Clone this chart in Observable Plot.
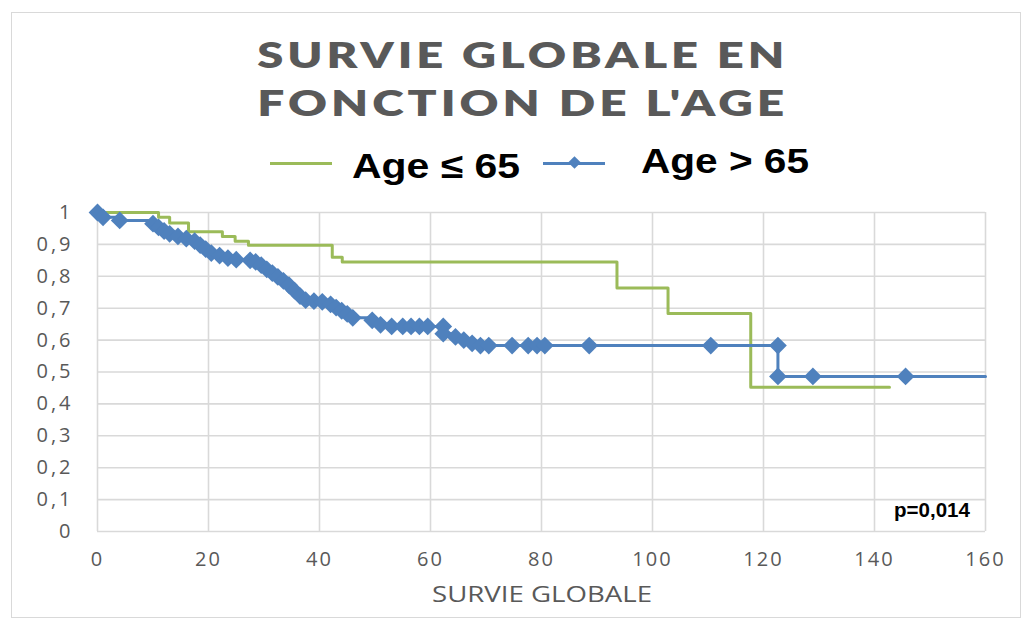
<!DOCTYPE html>
<html>
<head>
<meta charset="utf-8">
<script src="https://cdn.jsdelivr.net/npm/d3@7"></script>
<script src="https://cdn.jsdelivr.net/npm/@observablehq/plot@0.6"></script>
<style>
  html, body { margin: 0; padding: 0; background: #fff; }
  #wrap { position: relative; width: 1034px; height: 630px; overflow: hidden; background: #fff; }
  #border { position: absolute; left: 11px; top: 12px; width: 1010px; height: 606px; border: 1px solid #d9d9d9; box-sizing: border-box; }
  .abs { position: absolute; white-space: nowrap; }
  .title { left: 0; width: 1046px; text-align: center; font-family: Lato, "Open Sans", sans-serif; font-weight: 800; font-size: 36px; line-height: 36px; letter-spacing: 3px; color: #595959; }
  .title span { display: inline-block; transform-origin: center; }
  .leg { font-family: "Liberation Sans", Arial, sans-serif; font-weight: 700; font-size: 35px; line-height: 35px; color: #000; transform-origin: left center; }
  #chart { position: absolute; left: 0; top: 190px; }
  #chart [aria-label="y-axis tick label"] text { letter-spacing: 3px; }
  #chart [aria-label="x-axis tick label"] text { letter-spacing: 2px; }
  #xlabel { font-family: "Open Sans", sans-serif; font-size: 22px; line-height: 22px; color: #595959; transform-origin: left center; }
  #pval { font-family: "Liberation Sans Narrow", "Liberation Sans", sans-serif; font-weight: 700; font-size: 20px; line-height: 20px; color: #000; transform-origin: right center; }
</style>
</head>
<body>
<div id="wrap">
  <div id="border"></div>
  <div id="chart"></div>
  <div class="abs title" style="top:36px"><span id="t1">SURVIE GLOBALE EN</span></div>
  <div class="abs title" style="top:84px"><span id="t2">FONCTION DE L'AGE</span></div>
  <div class="abs" style="left:270px;top:162px;width:62px;height:3px;background:#9BBB59"></div>
  <div class="abs leg" id="leg1" style="left:352px;top:148px">Age ≤ 65</div>
  <div class="abs" style="left:543px;top:162px;width:62px;height:3px;background:#4F81BD"></div>
  <div class="abs" style="left:570px;top:158px;width:9px;height:9px;background:#4F81BD;transform:rotate(45deg)"></div>
  <div class="abs leg" id="leg2" style="left:641px;top:143px">Age &gt; 65</div>
  <div class="abs" id="xlabel" style="left:432px;top:582px">SURVIE GLOBALE</div>
  <div class="abs" id="pval" style="right:64px;top:500px">p=0,014</div>
</div>
<script>
// ---- data ----
const xTicks = [0, 20, 40, 60, 80, 100, 120, 140, 160];
const yTicks = [0, 0.1, 0.2, 0.3, 0.4, 0.5, 0.6, 0.7, 0.8, 0.9, 1];
const yTickLabels = ["0", "0,1", "0,2", "0,3", "0,4", "0,5", "0,6", "0,7", "0,8", "0,9", "1"];

// Age <= 65 (step function, no markers)
const greenT = [0, 11, 13, 16.4, 22.5, 24.8, 27.2, 42.3, 44.1, 93.6, 102.8, 117.7, 142.7];
const greenS = [1, 0.985, 0.967, 0.94, 0.925, 0.91, 0.897, 0.86, 0.845, 0.763, 0.683, 0.452, 0.452];

// Age > 65 (step function with diamond markers)
const blueT = [0, 1, 4, 10, 11, 12, 13, 14.5, 16, 17.5, 18.5, 19.5, 20.5, 22, 23.5, 25, 27.5, 28.5,
  29.5, 30.5, 31.5, 32.5, 33.5, 34.5, 35.5, 36.5, 37.5, 39, 40.5, 42, 43, 44, 45, 46, 49.5, 51,
  53, 55, 56.5, 58, 59.5, 62.3, 62.3, 64.5, 66, 67.5, 69, 70.5, 74.7, 77.6, 79.2, 80.6, 88.6,
  110.5, 122.6, 122.6, 128.9, 145.6];
const blueS = [1, 0.985, 0.975, 0.965, 0.953, 0.942, 0.933, 0.925, 0.918, 0.91, 0.898, 0.885, 0.873,
  0.865, 0.857, 0.852, 0.85, 0.845, 0.835, 0.822, 0.81, 0.798, 0.786, 0.772, 0.755, 0.738, 0.725,
  0.722, 0.72, 0.712, 0.702, 0.692, 0.682, 0.67, 0.662, 0.648, 0.643, 0.643, 0.643, 0.643, 0.643,
  0.643, 0.62, 0.61, 0.6, 0.59, 0.583, 0.583, 0.583, 0.583, 0.583, 0.583, 0.583, 0.583, 0.583,
  0.486, 0.486, 0.486];
const blueEndT = 160; // the series continues to the edge of the axis

const green = greenT.map((t, i) => ({t, s: greenS[i]}));
const blue = blueT.map((t, i) => ({t, s: blueS[i]}));
const blueLine = blue.concat([{t: blueEndT, s: blueS[blueS.length - 1]}]);

const grid = {stroke: "#d9d9d9", strokeOpacity: 1, strokeWidth: 1.6};

const chart = Plot.plot({
  width: 1034,
  height: 440,
  marginLeft: 97,
  marginRight: 49,
  marginTop: 22,
  marginBottom: 99,
  x: {domain: [0, 160]},
  y: {domain: [0, 1]},
  style: {fontFamily: "'Open Sans', sans-serif", fontSize: "20px", color: "#595959", background: "transparent", overflow: "visible"},
  marks: [
    Plot.gridX(xTicks, grid),
    Plot.gridY(yTicks, grid),
    Plot.axisX(xTicks, {tickSize: 0, tickPadding: 20, label: null}),
    Plot.axisY(yTicks, {tickSize: 0, tickPadding: 24, label: null,
      tickFormat: d => yTickLabels[yTicks.indexOf(d)]}),
    Plot.line(green, {x: "t", y: "s", curve: "step-after", stroke: "#9BBB59", strokeWidth: 3}),
    Plot.line(blueLine, {x: "t", y: "s", curve: "step-after", stroke: "#4F81BD", strokeWidth: 3}),
    Plot.dot(blue, {x: "t", y: "s", symbol: "diamond2", r: 8, fill: "#4F81BD", stroke: null})
  ]
});
document.getElementById("chart").appendChild(chart);

function fit(id, w) {
  const el = document.getElementById(id);
  const r = el.getBoundingClientRect().width;
  el.style.transform = `scaleX(${w / r})`;
}
fit("t1", 531);
fit("t2", 531);
fit("leg1", 168);
fit("leg2", 168);
fit("xlabel", 220);
fit("pval", 76);
</script>
</body>
</html>
